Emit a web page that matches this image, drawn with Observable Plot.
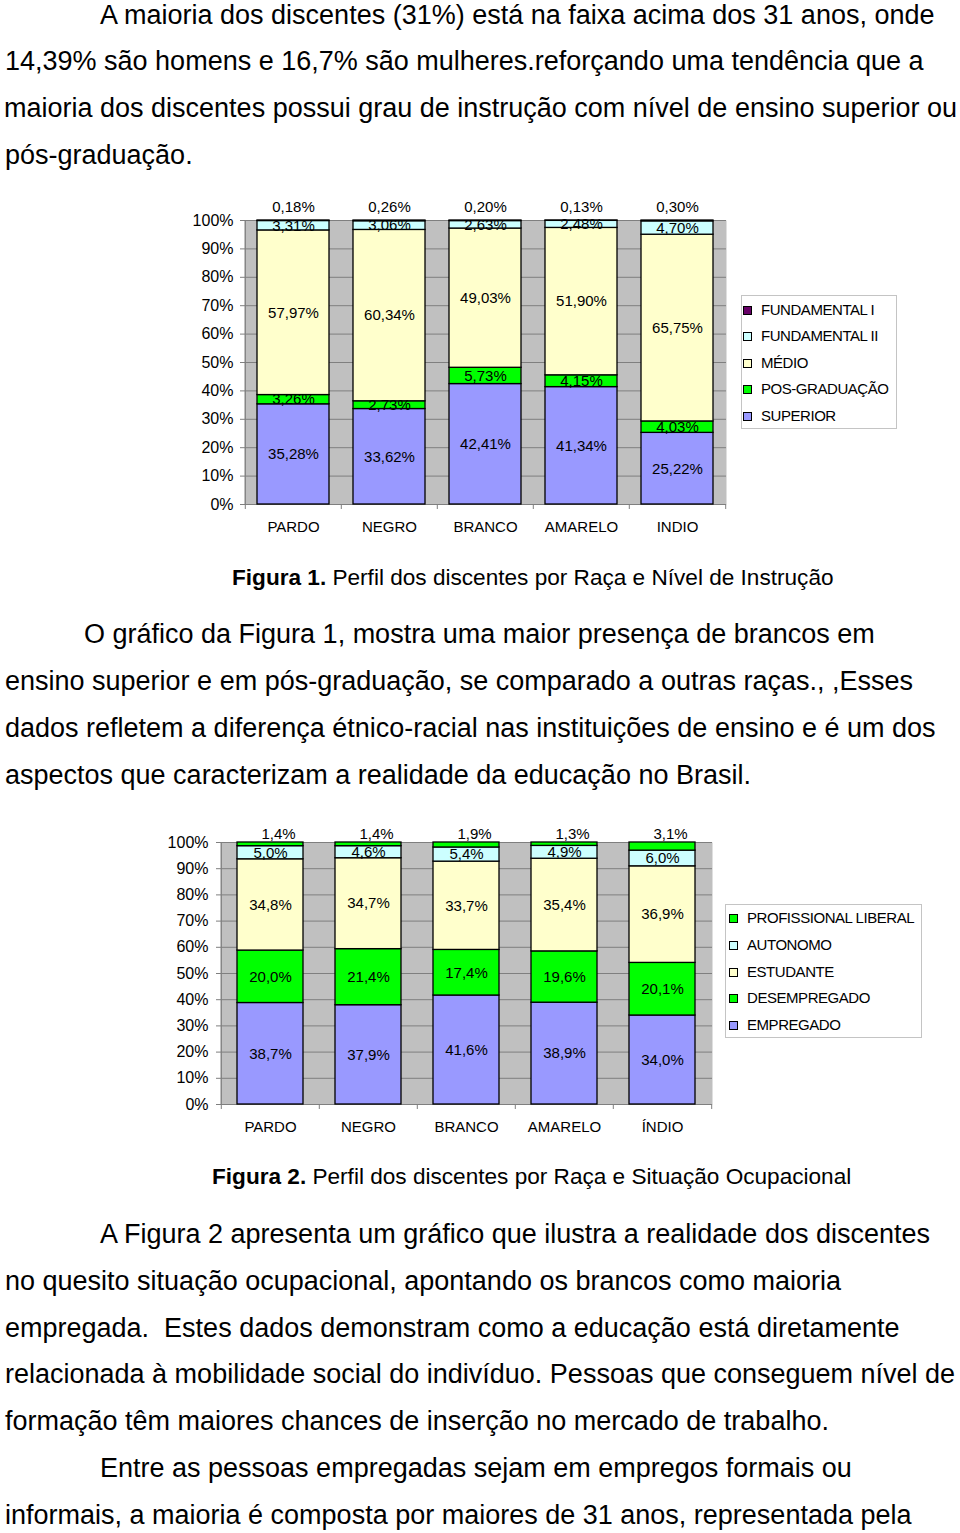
<!DOCTYPE html>
<html>
<head>
<meta charset="utf-8">
<script src="https://cdn.jsdelivr.net/npm/d3@7"></script>
<script src="https://cdn.jsdelivr.net/npm/@observablehq/plot@0.6"></script>
<style>
  html, body { margin: 0; padding: 0; background: #fff; }
  #page { position: relative; width: 960px; height: 1533px; overflow: hidden; font-family: "Liberation Sans", Arial, sans-serif; color: #000; }
  .line { position: absolute; white-space: pre; font-size: 27px; line-height: 32px; }
  .cap { position: absolute; white-space: pre; font-size: 22.6px; line-height: 26px; }
  .chart { position: absolute; left: 0; }
  .legend { position: absolute; border: 1.5px solid #c4c4c4; box-sizing: border-box; background: #fff; }
  .item { position: absolute; left: 0; height: 18px; line-height: 18px; font-size: 15px; letter-spacing: -0.45px; white-space: pre; }
  .sq { position: absolute; width: 7px; height: 7px; border: 1px solid #000; top: 5px; }
</style>
</head>
<body>
<div id="page"></div>
<script>
// ---------- Data: Figure 1 (Raça x Nível de Instrução) ----------
const races1 = ["PARDO", "NEGRO", "BRANCO", "AMARELO", "INDIO"];
const levels1 = ["SUPERIOR", "POS-GRADUAÇÃO", "MÉDIO", "FUNDAMENTAL II", "FUNDAMENTAL I"]; // bottom -> top
const colors1 = ["#9999ff", "#00ff00", "#ffffcc", "#ccffff", "#660066"];
const superior1 = [35.28, 33.62, 42.41, 41.34, 25.22];
const posGrad1 = [3.26, 2.73, 5.73, 4.15, 4.03];
const medio1 = [57.97, 60.34, 49.03, 51.90, 65.75];
const fund2_1 = [3.31, 3.06, 2.63, 2.48, 4.70];
const fund1_1 = [0.18, 0.26, 0.20, 0.13, 0.30];

// ---------- Data: Figure 2 (Raça x Situação Ocupacional) ----------
const races2 = ["PARDO", "NEGRO", "BRANCO", "AMARELO", "ÍNDIO"];
const levels2 = ["EMPREGADO", "DESEMPREGADO", "ESTUDANTE", "AUTONOMO", "PROFISSIONAL LIBERAL"]; // bottom -> top
const colors2 = ["#9999ff", "#00ff00", "#ffffcc", "#ccffff", "#00ff00"];
const empregado2 = [38.7, 37.9, 41.6, 38.9, 34.0];
const desempregado2 = [20.0, 21.4, 17.4, 19.6, 20.1];
const estudante2 = [34.8, 34.7, 33.7, 35.4, 36.9];
const autonomo2 = [5.0, 4.6, 5.4, 4.9, 6.0];
const profLiberal2 = [1.4, 1.4, 1.9, 1.3, 3.1];

// ---------- Text ----------
const para1 = [
  ["A maioria dos discentes (31%) está na faixa acima dos 31 anos, onde", 100, 15],
  ["14,39% são homens e 16,7% são mulheres.reforçando uma tendência que a", 5, 61],
  ["maioria dos discentes possui grau de instrução com nível de ensino superior ou", 4, 108],
  ["pós-graduação.", 5, 155]
];
const para2 = [
  ["O gráfico da Figura 1, mostra uma maior presença de brancos em", 84, 634],
  ["ensino superior e em pós-graduação, se comparado a outras raças., ,Esses", 5, 681],
  ["dados refletem a diferença étnico-racial nas instituições de ensino e é um dos", 5, 728],
  ["aspectos que caracterizam a realidade da educação no Brasil.", 5, 775]
];
const para3 = [
  ["A Figura 2 apresenta um gráfico que ilustra a realidade dos discentes", 100, 1234],
  ["no quesito situação ocupacional, apontando os brancos como maioria", 5, 1281],
  ["empregada.  Estes dados demonstram como a educação está diretamente", 5, 1328],
  ["relacionada à mobilidade social do indivíduo. Pessoas que conseguem nível de", 5, 1374],
  ["formação têm maiores chances de inserção no mercado de trabalho.", 5, 1421],
  ["Entre as pessoas empregadas sejam em empregos formais ou", 100, 1468],
  ["informais, a maioria é composta por maiores de 31 anos, representada pela", 5, 1515]
];
const caption1 = ["Figura 1.", " Perfil dos discentes por Raça e Nível de Instrução"];
const caption2 = ["Figura 2.", " Perfil dos discentes por Raça e Situação Ocupacional"];

const page = document.getElementById("page");

function addLines(lines) {
  for (const [t, x, y] of lines) {
    const d = document.createElement("div");
    d.className = "line";
    d.textContent = t;
    d.style.left = x + "px";
    d.style.top = (y - 16) + "px";
    page.appendChild(d);
    // keep every line inside the page width
    const avail = 958 - x;
    const w = d.getBoundingClientRect().width;
    if (w > avail) d.style.letterSpacing = (-(w - avail) / t.length) + "px";
  }
}
function addCaption(parts, x, y) {
  const d = document.createElement("div");
  d.className = "cap";
  d.style.left = x + "px";
  d.style.top = (y - 13) + "px";
  const b = document.createElement("b");
  b.textContent = parts[0];
  d.appendChild(b);
  d.appendChild(document.createTextNode(parts[1]));
  page.appendChild(d);
}

function chart(cfg) {
  const {races, levels, colors, series, decimals} = cfg;
  const top = levels[levels.length - 1];
  const fmt = v => v.toFixed(decimals).replace(".", ",") + "%";
  const rows = levels.flatMap((lev, li) =>
    races.map((r, ri) => ({race: r, level: lev, value: series[li][ri], label: fmt(series[li][ri])})));
  // half of a category band (outer padding is half the inner one, so step = plot width / n)
  const half = (cfg.width - cfg.ml - cfg.mr) / races.length / 2;
  const gray = "#7f7f7f";
  const svg = Plot.plot({
    width: cfg.width, height: cfg.height,
    marginLeft: cfg.ml, marginRight: cfg.mr, marginTop: cfg.mt, marginBottom: cfg.mb,
    style: {fontFamily: '"Liberation Sans", Arial, sans-serif', fontSize: "15px", background: "transparent", color: "#000", overflow: "visible"},
    x: {domain: races, paddingInner: cfg.pad, paddingOuter: cfg.pad / 2, label: null},
    y: {domain: [0, 1], label: null},
    color: {domain: levels, range: colors},
    marks: [
      Plot.frame({fill: "#c0c0c0", stroke: null}),
      Plot.gridY({ticks: 10, stroke: gray, strokeOpacity: 1, strokeWidth: 1}),
      Plot.ruleX([races[0]], {x: d => d, dx: -half, stroke: gray, strokeWidth: 1.2}),
      Plot.ruleY([0], {stroke: gray, strokeWidth: 1.2}),
      // category boundary ticks below the axis
      Plot.ruleX(races, {x: d => d, y1: () => 0, y2: () => 0, insetBottom: -5, dx: -half, stroke: gray}),
      Plot.ruleX([races[races.length - 1]], {x: d => d, y1: () => 0, y2: () => 0, insetBottom: -5, dx: half, stroke: gray}),
      Plot.barY(rows, Plot.stackY({x: "race", y: "value", fill: "level", offset: "normalize", stroke: "#000", strokeWidth: 1.3})),
      Plot.text(rows, Plot.stackY({x: "race", y: "value", z: "level", offset: "normalize",
        text: d => d.level === top ? null : d.label, fill: "#000", fontSize: 15})),
      Plot.text(rows.filter(d => d.level === top), {x: "race", y: () => 1, text: "label", dy: cfg.topDy, dx: cfg.topDx, fill: "#000", fontSize: 15}),
      Plot.axisY({ticks: 10, tickFormat: d3.format(".0%"), tickSize: 4, tickPadding: cfg.ytp, stroke: gray, fontSize: 16, label: null}),
      Plot.axisX({tickSize: 0, tickPadding: 17, fontSize: 15, label: null, style: "letter-spacing:-0.6px"})
    ]
  });
  svg.classList.add("chart");
  svg.style.top = cfg.top + "px";
  page.appendChild(svg);
}

function legend(levels, colors, box) {
  const lg = document.createElement("div");
  lg.className = "legend";
  Object.assign(lg.style, {left: box.x + "px", top: box.y + "px", width: box.w + "px", height: box.h + "px"});
  const order = levels.map((l, i) => i).reverse();
  order.forEach((li, k) => {
    const it = document.createElement("div");
    it.className = "item";
    it.style.top = (box.first + k * box.step - 9) + "px";
    const sq = document.createElement("span");
    sq.className = "sq";
    sq.style.left = box.sqx + "px";
    sq.style.background = colors[li];
    it.appendChild(sq);
    const t = document.createElement("span");
    t.style.position = "absolute";
    t.style.left = box.tx + "px";
    t.textContent = levels[li];
    it.appendChild(t);
    lg.appendChild(it);
  });
  page.appendChild(lg);
}

addLines(para1);
chart({races: races1, levels: levels1, colors: colors1,
  series: [superior1, posGrad1, medio1, fund2_1, fund1_1], decimals: 2,
  top: 190, width: 740, height: 360, ml: 244, mr: 14, mt: 30, mb: 46, pad: 0.25,
  topDy: -13, topDx: 0, ytp: 7});
legend(levels1, colors1, {x: 741, y: 295, w: 156, h: 134, first: 14, step: 26.4, sqx: 1, tx: 19});
addCaption(caption1, 232, 578);
addLines(para2);
chart({races: races2, levels: levels2, colors: colors2,
  series: [empregado2, desempregado2, estudante2, autonomo2, profLiberal2], decimals: 1,
  top: 812, width: 720, height: 338, ml: 220, mr: 8, mt: 30, mb: 46, pad: 0.33,
  topDy: -8, topDx: 8, ytp: 8});
legend(levels2, colors2, {x: 725, y: 904, w: 197, h: 134, first: 13, step: 26.8, sqx: 3, tx: 21});
addCaption(caption2, 212, 1177);
addLines(para3);
</script>
</body>
</html>
